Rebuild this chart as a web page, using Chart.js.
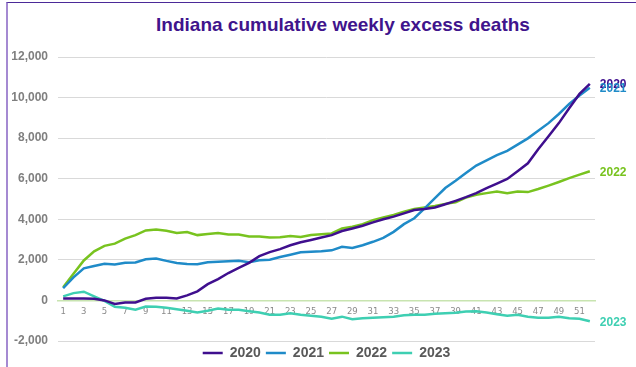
<!DOCTYPE html>
<html>
<head>
<meta charset="utf-8">
<script src="https://cdn.jsdelivr.net/npm/chart.js@4"></script>
<style>
  body { margin: 0; background: #fff; }
  #wrap { position: relative; width: 636px; height: 367px; overflow: hidden; }
  #frame { position: absolute; left: 6px; top: 2px; right: -2px; bottom: -2px;
    border-top: 1px solid #4b2a98; border-left: 2px solid #a58ad2; }
  #title { position: absolute; top: 14px; left: 143px; width: 400px; text-align: center;
    font: bold 19px "Liberation Sans", Arial, sans-serif; color: #40148c; white-space: nowrap; }
  canvas { position: absolute; left: 0; top: 0; }
</style>
</head>
<body>
<div id="wrap">
  <div id="frame"></div>
  <div id="title">Indiana cumulative weekly excess deaths</div>
  <canvas id="chart" width="636" height="367"></canvas>
</div>
<script>
const weeks = ['1','2','3','4','5','6','7','8','9','10','11','12','13','14','15','16','17','18','19','20',
  '21','22','23','24','25','26','27','28','29','30','31','32','33','34','35','36','37','38','39','40',
  '41','42','43','44','45','46','47','48','49','50','51','52'];

const y2020 = [100,100,100,80,0,-170,-100,-100,80,130,130,100,250,450,800,1050,1350,1600,1850,2180,
  2380,2530,2720,2870,2980,3100,3220,3420,3550,3680,3850,4000,4130,4290,4460,4510,4580,4740,4910,5090,
  5290,5540,5760,5990,6370,6760,7450,8090,8740,9470,10180,10680];
const y2021 = [600,1140,1580,1700,1810,1770,1860,1870,2030,2070,1950,1850,1800,1780,1880,1910,1930,1950,1880,1980,
  2010,2140,2250,2370,2400,2420,2470,2640,2590,2720,2890,3080,3380,3760,4050,4540,5040,5540,5900,6280,
  6650,6900,7160,7370,7680,7990,8360,8740,9190,9690,10100,10480];
const y2022 = [650,1310,1970,2420,2690,2800,3050,3220,3450,3500,3430,3320,3370,3220,3270,3320,3250,3250,3150,3150,
  3100,3120,3180,3130,3230,3260,3300,3550,3630,3760,3960,4090,4210,4380,4510,4580,4660,4760,4840,5070,
  5210,5290,5370,5290,5370,5340,5490,5660,5840,6030,6200,6370];
const y2023 = [200,360,430,200,-20,-310,-360,-460,-300,-310,-360,-430,-510,-600,-510,-400,-460,-460,-530,-600,
  -710,-700,-630,-710,-760,-810,-900,-800,-930,-880,-850,-830,-800,-730,-710,-700,-660,-630,-610,-550,
  -530,-600,-680,-760,-710,-800,-850,-850,-800,-880,-900,-1030];

const seriesNames = ['2020', '2021', '2022', '2023'];
const colors = ['#3f0f8e', '#1f8bc8', '#78c31f', '#3ecfb2'];

const endLabels = {
  id: 'endLabels',
  afterDatasetsDraw(chart) {
    const ctx = chart.ctx;
    ctx.save();
    ctx.font = 'bold 12px "Liberation Sans", Arial, sans-serif';
    ctx.textBaseline = 'middle';
    ctx.textAlign = 'left';
    chart.data.datasets.forEach((ds, i) => {
      const pts = chart.getDatasetMeta(i).data;
      const last = pts[pts.length - 1];
      ctx.fillStyle = ds.borderColor;
      ctx.fillText(ds.label, last.x + 10, last.y + 1);
    });
    ctx.restore();
  }
};

const allSeries = [y2020, y2021, y2022, y2023];

new Chart(document.getElementById('chart'), {
  type: 'line',
  data: {
    labels: weeks,
    datasets: allSeries.map((vals, i) => ({
      label: seriesNames[i],
      data: vals,
      borderColor: colors[i],
      backgroundColor: colors[i],
      borderWidth: 2.5,
      pointRadius: 0,
      tension: 0
    }))
  },
  options: {
    responsive: false,
    animation: false,
    layout: { padding: { left: 8, right: 41, top: 57, bottom: -3 } },
    plugins: {
      title: { display: false },
      tooltip: { enabled: false },
      legend: {
        position: 'bottom',
        fullSize: false,
        labels: {
          usePointStyle: true,
          pointStyle: 'line',
          pointStyleWidth: 20,
          padding: 5,
          color: '#595959',
          font: { family: '"Liberation Sans", Arial, sans-serif', size: 14, weight: 'bold' }
        }
      }
    },
    scales: {
      x: {
        position: { y: 0 },
        offset: true,
        grid: { color: 'rgba(0,0,0,0)', drawTicks: false },
        border: { display: true, color: '#c8e4b0', width: 1.5 },
        ticks: {
          autoSkip: false,
          maxRotation: 0,
          padding: 6,
          color: '#8a8a8a',
          font: { family: '"DejaVu Sans", Verdana, sans-serif', size: 8.5 },
          callback: function (v, i) { return i % 2 === 0 ? this.getLabelForValue(v) : ''; }
        }
      },
      y: {
        min: -2000,
        max: 12000,
        afterFit: (s) => { s.width = 50; },
        grid: {
          drawTicks: false,
          color: (c) => c.tick && c.tick.value === 0 ? 'rgba(0,0,0,0)' : '#d9d9d9'
        },
        border: { display: false },
        ticks: {
          stepSize: 2000,
          padding: 10,
          color: '#7f7f7f',
          font: { family: '"Liberation Sans", Arial, sans-serif', size: 12, weight: 'bold' },
          callback: (v) => v.toLocaleString('en-US')
        }
      }
    }
  },
  plugins: [endLabels]
});
</script>
</body>
</html>
